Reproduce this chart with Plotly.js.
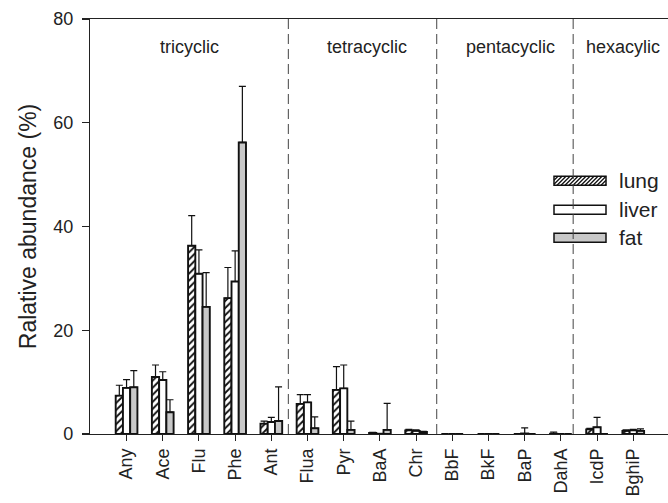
<!DOCTYPE html>
<html>
<head>
<meta charset="utf-8">
<script src="https://cdn.plot.ly/plotly-3.0.1.min.js"></script>
<style>html,body{margin:0;padding:0;background:#fff;}#chart{width:668px;height:503px;}</style>
</head>
<body>
<div id="chart"></div>
<script>
const categories = ['Any','Ace','Flu','Phe','Ant','Flua','Pyr','BaA','Chr','BbF','BkF','BaP','DahA','IcdP','BghiP'];
const lung     = [7.4, 11.0, 36.3, 26.2, 2.0, 5.8, 8.5, 0.2, 0.7, 0, 0, 0,   0.05, 0.9, 0.6];
const lungErr  = [2.0, 2.3,  5.8,  5.9,  0.5, 1.8, 4.5, 0.1, 0.2, 0, 0, 0,   0.3,  0.2, 0.2];
const liver    = [8.9, 10.4, 30.9, 29.4, 2.3, 6.1, 8.8, 0.05,0.6, 0, 0, 0.1, 0,    1.3, 0.7];
const liverErr = [1.6, 1.6,  4.6,  5.9,  0.9, 1.5, 4.5, 0,   0.2, 0, 0, 1.1, 0,    1.9, 0.2];
const fat      = [9.0, 4.2,  24.5, 56.2, 2.5, 1.1, 0.8, 0.8, 0.4, 0, 0, 0,   0,    0,   0.6];
const fatErr   = [3.2, 2.4,  6.6,  10.8, 6.6, 2.2, 1.7, 5.1, 0.1, 0, 0, 0,   0,    0,   0.4];
const seriesNames = ['lung','liver','fat'];
const groupNames = ['tricyclic','tetracyclic','pentacyclic','hexacylic'];

const zeros = categories.map(() => 0);
const FONT = 'Liberation Sans, Arial, Helvetica, sans-serif';
const lineStyle = {color: '#111', width: 1.9};
function errY(arr) {
  return {type: 'data', symmetric: false, array: arr, arrayminus: zeros,
          color: '#111', thickness: 1.2, width: 3.5};
}

const traces = [
  {type: 'bar', name: seriesNames[0], x: categories, y: lung, error_y: errY(lungErr),
   marker: {color: 'white', line: lineStyle,
            pattern: {shape: '/', fgcolor: '#111', bgcolor: 'white', size: 5, solidity: 0.38}}},
  {type: 'bar', name: seriesNames[1], x: categories, y: liver, error_y: errY(liverErr),
   marker: {color: 'white', line: lineStyle}},
  {type: 'bar', name: seriesNames[2], x: categories, y: fat, error_y: errY(fatErr),
   marker: {color: '#c8c8c8', line: lineStyle}}
];

// plot area in pixels
const L = 90, R = 668, T = 19, B = 434.5;
const px = x => (x - L) / (R - L);
const py = y => (B - y) / (B - T);

const shapes = [];
// dashed separators (layout positions)
[4.47, 8.57, 12.34].forEach(xv => {
  shapes.push({type: 'line', xref: 'x', yref: 'y', x0: xv, x1: xv, y0: 0, y1: 80,
               line: {color: '#444', width: 1, dash: '10px,5px'}});
});

// manual legend
const legX0 = 554, legX1 = 606, legH = 9;
const legY = [181, 210, 238];
const legFill = ['white', 'white', '#c8c8c8'];
legY.forEach((cy, i) => {
  shapes.push({type: 'rect', xref: 'paper', yref: 'paper',
               x0: px(legX0), x1: px(legX1), y0: py(cy + legH / 2), y1: py(cy - legH / 2),
               fillcolor: legFill[i], line: {color: '#111', width: 1.5}, layer: 'below'});
});
// hatch for lung legend box
(function () {
  const top = legY[0] - legH / 2, bot = legY[0] + legH / 2;
  let d = '';
  for (let k = legX0 - legH; k < legX1; k += 4) {
    let xa = k, ya = bot, xb = k + legH, yb = top;
    if (xa < legX0) { ya = bot - (legX0 - xa); xa = legX0; }
    if (xb > legX1) { yb = top + (xb - legX1); xb = legX1; }
    if (xb <= xa) continue;
    d += 'M' + px(xa) + ',' + py(ya) + 'L' + px(xb) + ',' + py(yb);
  }
  shapes.push({type: 'path', xref: 'paper', yref: 'paper', path: d,
               line: {color: '#111', width: 1.3}, layer: 'below'});
})();

const annotations = [];
const groupCenters = [1.74, 6.63, 10.61, 13.71];
groupNames.forEach((g, i) => {
  annotations.push({x: groupCenters[i], y: py(47.5), xref: 'x', yref: 'paper', text: g,
                    showarrow: false, font: {family: FONT, size: 18, color: '#222'},
                    xanchor: 'center', yanchor: 'middle'});
});
seriesNames.forEach((s, i) => {
  annotations.push({x: px(617), y: py(legY[i]), xref: 'paper', yref: 'paper', text: s,
                    showarrow: false, font: {family: FONT, size: 21, color: '#222'},
                    xanchor: 'left', yanchor: 'middle'});
});

const layout = {
  width: 668, height: 503,
  margin: {l: L, r: 668 - R, t: T, b: 503 - B, pad: 0},
  paper_bgcolor: 'white', plot_bgcolor: 'white',
  showlegend: false,
  barmode: 'group', bargap: 0.4, bargroupgap: 0,
  font: {family: FONT, color: '#222'},
  xaxis: {type: 'category', range: [-1.01, 14.96], showgrid: false, zeroline: false,
          showline: true, mirror: true, linecolor: '#222', linewidth: 1.2,
          ticks: 'outside', ticklen: 6, tickwidth: 1.1, tickcolor: '#222',
          tickangle: -90, tickfont: {family: FONT, size: 18, color: '#222'}},
  yaxis: {range: [0, 80], tickvals: [0, 20, 40, 60, 80], showgrid: false, zeroline: false,
          showline: true, linecolor: '#222', linewidth: 1.2,
          ticks: 'outside', ticklen: 7, tickwidth: 1.1, tickcolor: '#222',
          ticklabelstandoff: 5,
          tickfont: {family: FONT, size: 18, color: '#222'},
          title: {text: 'Ralative abundance (%)', font: {family: FONT, size: 23, color: '#222'}, standoff: 10}},
  shapes: shapes,
  annotations: annotations
};

Plotly.newPlot('chart', traces, layout, {displayModeBar: false, staticPlot: true});
</script>
</body>
</html>
